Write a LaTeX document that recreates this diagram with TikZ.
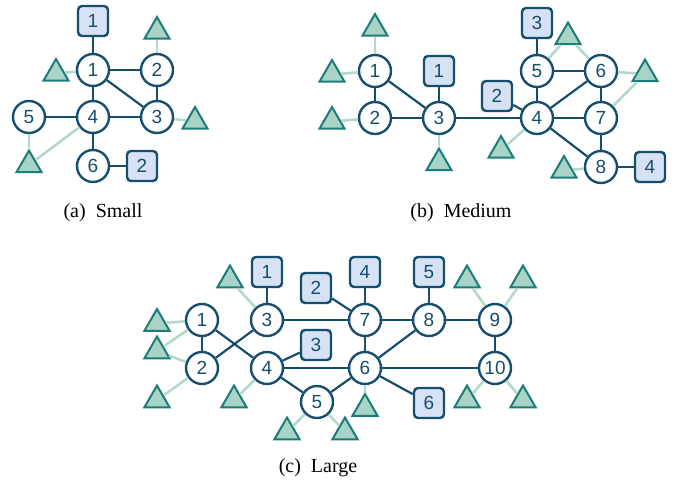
\documentclass[tikz,border=0pt]{standalone}
\usepackage{fontspec}
\setmainfont{Liberation Serif}
\setsansfont{Liberation Sans}
\usetikzlibrary{shapes.geometric}

\definecolor{navy}{HTML}{164E6E}
\definecolor{boxfill}{HTML}{D6E2F3}
\definecolor{trifill}{HTML}{A9D3C6}
\definecolor{triline}{HTML}{1B7D78}
\definecolor{softline}{HTML}{B4D9CC}

\tikzset{
  nd/.style={circle, draw=navy, fill=white, line width=1.2pt, minimum size=16pt, inner sep=0pt,
    text=navy, font=\sffamily\fontsize{9.5}{10}\selectfont},
  sq/.style={rectangle, rounded corners=2pt, draw=navy, fill=boxfill, line width=1.2pt,
    minimum size=15pt, inner sep=0pt, text=navy, font=\sffamily\fontsize{9.5}{10}\selectfont},
  tri/.style={regular polygon, regular polygon sides=3, draw=triline, fill=trifill,
    line width=1pt, minimum size=14.5pt, inner sep=0pt},
  ln/.style={draw=navy, line width=1.1pt},
  soft/.style={draw=softline, line width=1.3pt},
  captxt/.style={font=\fontsize{10}{12}\selectfont}
}

\begin{document}
\begin{tikzpicture}[x=0.5pt, y=-0.5pt]
        \useasboundingbox (0,0) rectangle (686,481);

        % small
        \node[nd] (a1) at (93,70)   {1};
        \node[nd] (a2) at (157,70)  {2};
        \node[nd] (a3) at (157,117) {3};
        \node[nd] (a4) at (93,117)  {4};
        \node[nd] (a5) at (29,117)  {5};
        \node[nd] (a6) at (93,166)  {6};
        \node[sq] (ab1) at (93,21)   {1};
        \node[sq] (ab2) at (142,166) {2};
        \node[tri] (at1) at (157,31.5)  {};
        \node[tri] (at2) at (56,73.5)   {};
        \node[tri] (at3) at (195,121.5) {};
        \node[tri] (at4) at (29,165)    {};

        \draw[soft] (at1) -- (a2);
        \draw[soft] (at2) -- (a1);
        \draw[soft] (at3) -- (a3);
        \draw[soft] (at4) -- (a5);
        \draw[soft] (at4) -- (a4);

        \draw[ln] (ab1) -- (a1);
        \draw[ln] (a1) -- (a2);
        \draw[ln] (a1) -- (a3);
        \draw[ln] (a1) -- (a4);
        \draw[ln] (a2) -- (a3);
        \draw[ln] (a4) -- (a3);
        \draw[ln] (a5) -- (a4);
        \draw[ln] (a4) -- (a6);
        \draw[ln] (a6) -- (ab2);

        \node[captxt] (capa) at (103,213) {(a)\ \ Small};

        % medium
        \node[nd] (b1) at (375,71)  {1};
        \node[nd] (b2) at (375,118) {2};
        \node[nd] (b3) at (439,118) {3};
        \node[nd] (b4) at (537,118) {4};
        \node[nd] (b5) at (537,71)  {5};
        \node[nd] (b6) at (601,71)  {6};
        \node[nd] (b7) at (601,118) {7};
        \node[nd] (b8) at (601,167) {8};
        \node[sq] (bb1) at (439,71)  {1};
        \node[sq] (bb2) at (497,96)  {2};
        \node[sq] (bb3) at (537,23)  {3};
        \node[sq] (bb4) at (650,167) {4};
        \node[tri] (bt1) at (375,28.5)  {};
        \node[tri] (bt2) at (332,74.5)  {};
        \node[tri] (bt3) at (332,121.5) {};
        \node[tri] (bt4) at (439,163)   {};
        \node[tri] (bt5) at (501,150.5) {};
        \node[tri] (bt6) at (568,37)    {};
        \node[tri] (bt7) at (645,74)    {};
        \node[tri] (bt8) at (564,170.5) {};

        \draw[soft] (bt1) -- (b1);
        \draw[soft] (bt2) -- (b1);
        \draw[soft] (bt3) -- (b2);
        \draw[soft] (bt4) -- (b3);
        \draw[soft] (bt5) -- (b4);
        \draw[soft] (bt6) -- (b5);
        \draw[soft] (bt6) -- (b6);
        \draw[soft] (bt7) -- (b6);
        \draw[soft] (bt7) -- (b7);
        \draw[soft] (bt8) -- (b8);

        \draw[ln] (b1) -- (b2);
        \draw[ln] (b1) -- (b3);
        \draw[ln] (b2) -- (b3);
        \draw[ln] (b3) -- (bb1);
        \draw[ln] (b3) -- (b4);
        \draw[ln] (bb2) -- (b4);
        \draw[ln] (b4) -- (b5);
        \draw[ln] (b5) -- (bb3);
        \draw[ln] (b5) -- (b6);
        \draw[ln] (b4) -- (b6);
        \draw[ln] (b4) -- (b7);
        \draw[ln] (b6) -- (b7);
        \draw[ln] (b4) -- (b8);
        \draw[ln] (b7) -- (b8);
        \draw[ln] (b8) -- (bb4);

        \node[captxt] (capb) at (461,213) {(b)\ \ Medium};

        % large
        \node[nd] (c1)  at (202,320) {1};
        \node[nd] (c2)  at (202,368) {2};
        \node[nd] (c3)  at (267,320) {3};
        \node[nd] (c4)  at (267,368) {4};
        \node[nd] (c5)  at (317,402) {5};
        \node[nd] (c6)  at (365,368) {6};
        \node[nd] (c7)  at (365,320) {7};
        \node[nd] (c8)  at (429,320) {8};
        \node[nd] (c9)  at (495,320) {9};
        \node[nd] (c10) at (495,368) {10};
        \node[sq] (cb1) at (267,272) {1};
        \node[sq] (cb2) at (316,288) {2};
        \node[sq] (cb3) at (316,345) {3};
        \node[sq] (cb4) at (365,272) {4};
        \node[sq] (cb5) at (429,272) {5};
        \node[sq] (cb6) at (429,403) {6};
        \node[tri] (ct1)  at (230,280)   {};
        \node[tri] (ct2)  at (157,323.5) {};
        \node[tri] (ct3)  at (157,351)   {};
        \node[tri] (ct4)  at (157,400)   {};
        \node[tri] (ct5)  at (234,400)   {};
        \node[tri] (ct6)  at (287,432)   {};
        \node[tri] (ct7)  at (345,432)   {};
        \node[tri] (ct8)  at (365,408.5) {};
        \node[tri] (ct9)  at (467,280)   {};
        \node[tri] (ct10) at (523,280)   {};
        \node[tri] (ct11) at (467,400)   {};
        \node[tri] (ct12) at (523,400)   {};

        \draw[soft] (ct1) -- (c3);
        \draw[soft] (ct2) -- (c1);
        \draw[soft] (ct3) -- (c1);
        \draw[soft] (ct3) -- (c2);
        \draw[soft] (ct4) -- (c2);
        \draw[soft] (ct5) -- (c4);
        \draw[soft] (ct6) -- (c5);
        \draw[soft] (ct7) -- (c5);
        \draw[soft] (ct8) -- (c6);
        \draw[soft] (ct9) -- (c9);
        \draw[soft] (ct10) -- (c9);
        \draw[soft] (ct11) -- (c10);
        \draw[soft] (ct12) -- (c10);

        \draw[ln] (c1) -- (c2);
        \draw[ln] (c1) -- (c4);
        \draw[ln] (c2) -- (c3);
        \draw[ln] (c3) -- (cb1);
        \draw[ln] (c3) -- (c7);
        \draw[ln] (cb2) -- (c7);
        \draw[ln] (c7) -- (cb4);
        \draw[ln] (c4) -- (cb3);
        \draw[ln] (c4) -- (c6);
        \draw[ln] (c4) -- (c5);
        \draw[ln] (c5) -- (c6);
        \draw[ln] (c6) -- (c7);
        \draw[ln] (c6) -- (c8);
        \draw[ln] (c6) -- (c10);
        \draw[ln] (c6) -- (cb6);
        \draw[ln] (c7) -- (c8);
        \draw[ln] (c8) -- (cb5);
        \draw[ln] (c8) -- (c9);
        \draw[ln] (c9) -- (c10);

        \node[captxt] (capc) at (318,468) {(c)\ \ Large};
      \end{tikzpicture}
\end{document}
